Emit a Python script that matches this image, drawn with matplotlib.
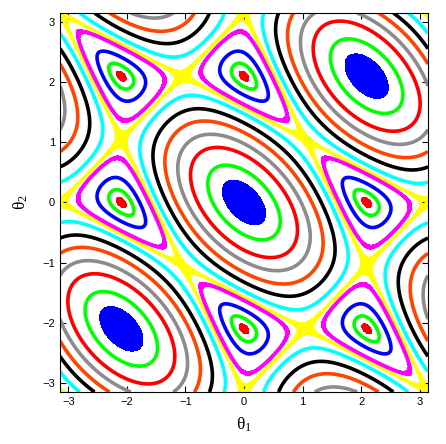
import numpy as np
import matplotlib
matplotlib.use('Agg')
import matplotlib.pyplot as plt

# levels of the energy, with their colours
outer_levels = [2.2, 1.4, 0.75, 0.12, -0.38, -0.78]
outer_colors = ['#00ff00', '#ff0000', '#8c8c8c', '#ff4500', '#000000', '#00ffff']
inner_levels = [-1.33, -1.45]
inner_colors = ['#0000ff', '#00ff00']
core_max = 2.7        # blue filled centre of the ellipses
core_min = -1.492     # red dot of the triangles
separatrix = -1.0     # yellow
magenta_level = -1.1
ticks = [-3, -2, -1, 0, 1, 2, 3]

th = np.linspace(-np.pi, np.pi, 800)
t1, t2 = np.meshgrid(th, th)
H = np.cos(t1 - t2) + np.cos(2*t1 + t2) + np.cos(t1 + 2*t2)

fig = plt.figure(figsize=(4.46, 4.44), dpi=100)
ax = fig.add_axes([60/446, 1 - 392/444, 368/446, 379/444])

# filled cores
ax.contourf(t1, t2, H, levels=[core_max, 10], colors=['#0000ff'])
ax.contourf(t1, t2, H, levels=[-10, core_min], colors=['#ff0000'])

# separatrix and the magenta orbit as thin bands (thicker near the saddles)
ax.contourf(t1, t2, H, levels=[separatrix - 0.022, separatrix + 0.022], colors=['#ffff00'])
ax.contour(t1, t2, H, levels=[separatrix], colors=['#ffff00'], linewidths=2.4,
           linestyles='solid')
ax.contourf(t1, t2, H, levels=[magenta_level - 0.02, magenta_level + 0.02], colors=['#ff00ff'])
ax.contour(t1, t2, H, levels=[magenta_level], colors=['#ff00ff'], linewidths=2.8,
           linestyles='solid')

for lev, col in zip(outer_levels, outer_colors):
    ax.contour(t1, t2, H, levels=[lev], colors=[col], linewidths=2.6, linestyles='solid')
for lev, col in zip(inner_levels, inner_colors):
    ax.contour(t1, t2, H, levels=[lev], colors=[col], linewidths=2.6, linestyles='solid')

ax.set_xlim(-np.pi, np.pi)
ax.set_ylim(-np.pi, np.pi)
ax.set_xticks(ticks)
ax.set_yticks(ticks)
ax.tick_params(direction='in', top=True, right=True, length=4, width=0.8,
               labelsize=8)
for lab in ax.get_xticklabels() + ax.get_yticklabels():
    lab.set_family('Liberation Sans')
for s in ax.spines.values():
    s.set_linewidth(0.8)

ax.set_xlabel(r'$\mathregular{\theta_1}$', fontsize=12.5, family='Liberation Serif', labelpad=6)
ax.set_ylabel(r'$\mathregular{\theta_2}$', fontsize=12.5, family='Liberation Serif', labelpad=9)

fig.savefig('out.png', dpi=100)
